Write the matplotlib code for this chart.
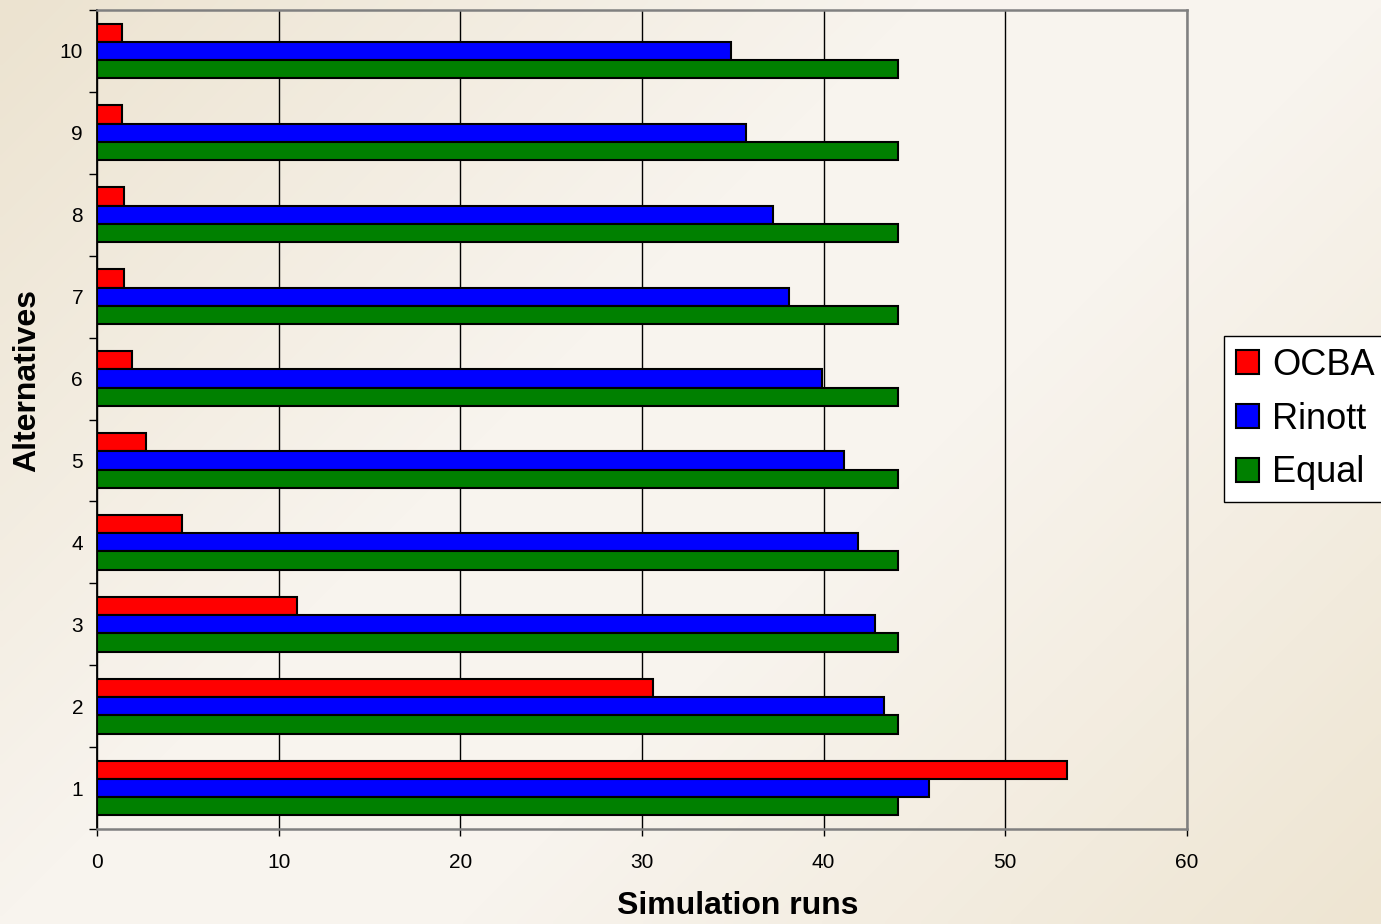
import matplotlib
matplotlib.use("Agg")
import matplotlib.pyplot as plt
import numpy as np
from matplotlib.colors import LinearSegmentedColormap

plt.rcParams['font.family'] = ['Liberation Sans', 'DejaVu Sans']

alternatives = [1, 2, 3, 4, 5, 6, 7, 8, 9, 10]
ocba = [53.4, 30.6, 11.0, 4.7, 2.7, 1.9, 1.5, 1.5, 1.4, 1.4]
rinott = [45.8, 43.3, 42.8, 41.9, 41.1, 39.9, 38.1, 37.2, 35.7, 34.9]
equal = [44.1, 44.1, 44.1, 44.1, 44.1, 44.1, 44.1, 44.1, 44.1, 44.1]
series_names = ['OCBA', 'Rinott', 'Equal']
series_colors = ['#FF0000', '#0000FF', '#008000']

W, H = 1381, 924
fig = plt.figure(figsize=(W / 100, H / 100), dpi=100)

# beige diagonal gradient behind everything
bg = fig.add_axes([0, 0, 1, 1], zorder=-10)
gx, gy = np.meshgrid(np.linspace(0, 1, 300), np.linspace(0, 1, 200))
t = (gx * W + gy * H) / (W + H)
cmap = LinearSegmentedColormap.from_list(
    'paper', [(0.0, '#ECE3D0'), (0.4, '#F8F4EE'), (0.6, '#F8F4EE'), (1.0, '#EEE5D2')])
bg.imshow(t, cmap=cmap, aspect='auto', extent=[0, 1, 1, 0], interpolation='bilinear')
bg.axis('off')

ax = fig.add_axes([97 / W, 1 - 829 / H, (1187 - 97) / W, (829 - 10) / H])
ax.set_facecolor('none')

y = np.array(alternatives, dtype=float)
h = 0.223
for vals, off, col, name in zip([ocba, rinott, equal], [h, 0, -h], series_colors, series_names):
    ax.barh(y + off, vals, height=h, color=col, edgecolor='black', linewidth=1.5,
            label=name, zorder=3)

ax.set_xlim(0, 60)
ax.set_ylim(0.5, 10.5)
ax.set_xticks(np.arange(0, 61, 10))
ax.set_yticks(alternatives)
ax.set_yticks(np.arange(0.5, 10.6, 1), minor=True)
ax.tick_params(axis='y', which='major', length=0, pad=10, labelsize=15)
ax.tick_params(axis='y', which='minor', length=6, width=1, color='black', direction='out')
ax.tick_params(axis='x', length=5, width=1, direction='out', labelsize=15, pad=12)
ax.grid(axis='x', color='black', linewidth=1, zorder=1)

for side in ['top', 'right', 'bottom']:
    ax.spines[side].set_color('#808080')
    ax.spines[side].set_linewidth(1.8)
ax.spines['left'].set_color('black')
ax.spines['left'].set_linewidth(1.3)

fig.text(738 / W, 1 - 906 / H, 'Simulation runs', ha='center', va='center',
         fontsize=23, fontweight='bold')
fig.text(27 / W, 1 - 380 / H, 'Alternatives', ha='center', va='center',
         fontsize=23, fontweight='bold', rotation=90)

leg = ax.legend(loc='upper left', bbox_to_anchor=(1224 / W, 1 - 336 / H),
                bbox_transform=fig.transFigure, borderaxespad=0, fontsize=26,
                fancybox=False, edgecolor='black', framealpha=1, facecolor='white',
                handlelength=0.65, handleheight=0.65, handletextpad=0.35,
                labelspacing=0.52, borderpad=0.33)
leg.get_frame().set_linewidth(1)

fig.savefig('out.png', dpi=100)
